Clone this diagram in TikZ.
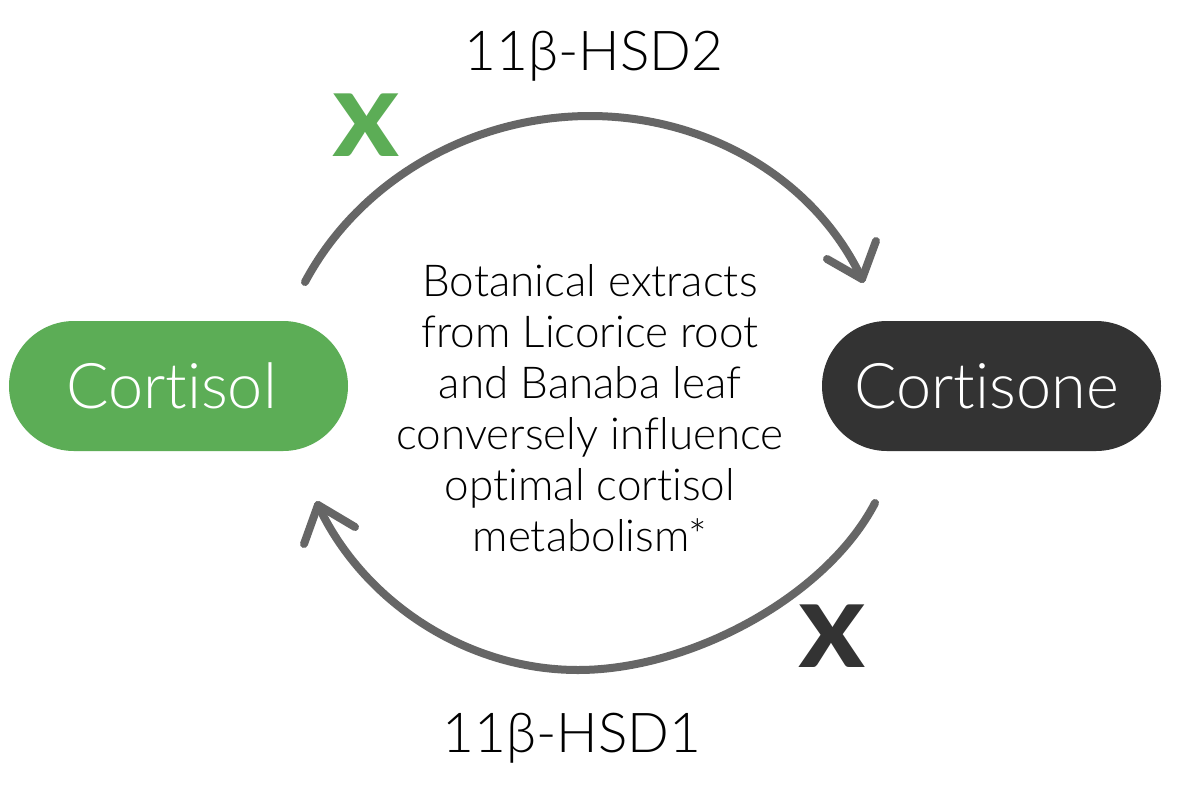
\documentclass[tikz,border=0pt]{standalone}
\usepackage{fontspec}
\usepackage{graphicx}
\setmainfont{Lato}[Ligatures=NoCommon]
\newfontfamily\lightfont{Lato Light}[Ligatures=NoCommon]
\newfontfamily\heavyfont{Lato Black}
\usetikzlibrary{shapes.misc}
\definecolor{cgreen}{HTML}{5CAD56}
\definecolor{cdark}{HTML}{333333}
\definecolor{carc}{HTML}{666666}
\begin{document}
\begin{tikzpicture}[x=1pt,y=-1pt,
  pill/.style={rounded rectangle, minimum width=339pt, minimum height=130pt, inner sep=0pt, text=white, font=\lightfont\fontsize{63}{70}\selectfont},
  body/.style={anchor=base, inner sep=0pt, font=\lightfont\fontsize{44}{51}\selectfont},
  enz/.style={anchor=base, inner sep=0pt, font=\lightfont\fontsize{55}{60}\selectfont},
  cross/.style={anchor=base, inner sep=0pt, font=\heavyfont\fontsize{86}{90}\selectfont},
  flow/.style={draw=carc, line width=8pt, line cap=round, line join=round}]
\useasboundingbox (0,0) rectangle (1186,788);
\fill[white] (0,0) rectangle (1186,788);
% pills
\node[pill, fill=cgreen] (cortisol) at (178.5,386) {Cortisol\hspace*{14pt}};
\node[pill, fill=cdark] (cortisone) at (991.5,386) {Cortisone\hspace*{10pt}};
% enzyme labels
\node[enz] (hsd2) at (594,70) {11β-HSD2};
\node[enz] (hsd1) at (572,752) {11β-HSD1};
% crosses
\node[cross, text=cgreen] (x2) at (366.5,156) {\scalebox{1.1}[1]{X}};
\node[cross, text=cdark] (x1) at (832.5,667) {\scalebox{1.1}[1]{X}};
% central text
\node[body] (t1) at (590,296) {Botanical extracts};
\node[body] (t2) at (590,347) {from Licorice root};
\node[body] (t3) at (590,398) {and Banaba leaf};
\node[body] (t4) at (590,449) {conversely influence};
\node[body] (t5) at (590,500) {optimal cortisol};
\node[body] (t6) at (590,551) {metabolism*};
% arcs
\coordinate (us) at (305,282);
\coordinate (ut) at (590,116);
\coordinate (ue) at (862,279);
\coordinate (ub1) at (827,259);
\coordinate (ub2) at (876,241);
\coordinate (ls) at (875,503);
\coordinate (lb) at (578,670);
\coordinate (le) at (318,505);
\coordinate (lb1) at (304,544);
\coordinate (lb2) at (355,527);
\draw[flow] (us) .. controls (360,179) and (473,116) .. (ut)
            .. controls (705,116) and (814,177) .. (ue);
\draw[flow] (ub1) -- (ue) -- (ub2);
\draw[flow] (ls) .. controls (826,597) and (690,670) .. (lb)
            .. controls (465,670) and (362,600) .. (le);
\draw[flow] (lb1) -- (le) -- (lb2);
\end{tikzpicture}
\end{document}
